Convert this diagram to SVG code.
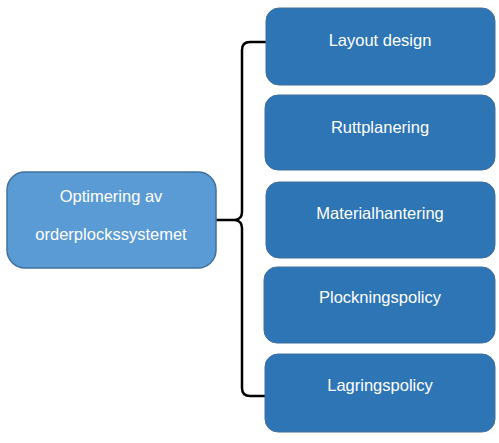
<svg xmlns="http://www.w3.org/2000/svg" width="499" height="443" viewBox="0 0 499 443">
<style>
.box{fill:#2e75b6;stroke:#41719c;stroke-width:1}
.root{fill:#5b9bd5;stroke:#41719c;stroke-width:1.5}
text{font-family:"Liberation Sans",Arial,sans-serif;font-size:16.5px;fill:#ffffff;text-anchor:middle}
.conn{fill:none;stroke:#000000;stroke-width:2.5}
</style>
<rect width="499" height="443" fill="#ffffff"/>
<g id="connectors">
<path class="conn" d="M266,42 L250,42 Q242,42 242,50 L242,212 Q242,219 235,220 L216,220 M235,220 Q242,221 242,228 L242,388 Q242,396 250,396 L266,396"/>
</g>
<g id="root">
<rect class="root" x="7" y="172" width="209" height="96" rx="18"/>
<text x="111" y="202">Optimering av</text>
<text x="111" y="240">orderplockssystemet</text>
</g>
<g id="n1">
<rect class="box" x="266" y="8" width="229" height="77" rx="13"/>
<text x="380" y="46">Layout design</text>
</g>
<g id="n2">
<rect class="box" x="265" y="95" width="230" height="75" rx="13"/>
<text x="380" y="133">Ruttplanering</text>
</g>
<g id="n3">
<rect class="box" x="266" y="182" width="229" height="76" rx="13"/>
<text x="380" y="219">Materialhantering</text>
</g>
<g id="n4">
<rect class="box" x="264" y="267" width="231" height="76" rx="13"/>
<text x="380" y="303">Plockningspolicy</text>
</g>
<g id="n5">
<rect class="box" x="265" y="354" width="230" height="78" rx="13"/>
<text x="380" y="391">Lagringspolicy</text>
</g>
</svg>
